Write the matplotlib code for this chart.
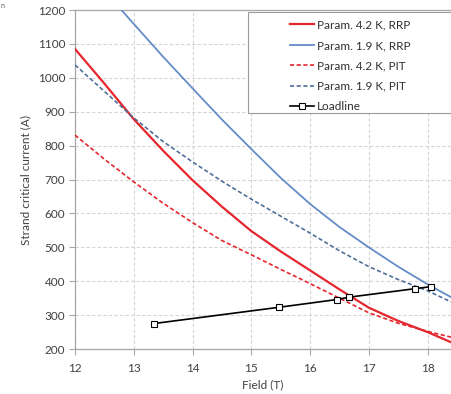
# Strand critical current vs field with magnet loadline

import matplotlib
matplotlib.use("Agg")
import matplotlib.pyplot as plt
from matplotlib.patches import Rectangle

plt.rcParams["font.family"] = ["Lato", "DejaVu Sans"]

# Param. 4.2 K, RRP
rrp_42_field = [12.0, 12.5, 13.0, 13.5, 14.0, 14.5, 15.0, 15.5, 16.0, 16.5, 17.0, 17.5, 18.0, 18.4]
rrp_42_ic = [1085, 983, 878, 785, 698, 620, 548, 488, 432, 376, 322, 283, 250, 220]

# Param. 1.9 K, RRP
rrp_19_field = [12.79, 13.0, 13.5, 14.0, 14.5, 15.0, 15.5, 16.0, 16.5, 17.0, 17.5, 18.0, 18.4]
rrp_19_ic = [1200, 1159, 1062, 969, 877, 790, 705, 628, 560, 500, 443, 391, 353]

# Param. 4.2 K, PIT
pit_42_field = [12.0, 12.5, 13.0, 13.5, 14.0, 14.5, 15.0, 15.5, 16.0, 16.5, 17.0, 17.5, 18.0, 18.4]
pit_42_ic = [831, 760, 693, 630, 573, 520, 478, 435, 393, 350, 307, 276, 252, 235]

# Param. 1.9 K, PIT
pit_19_field = [12.0, 12.5, 13.0, 13.5, 14.0, 14.5, 15.0, 15.5, 16.0, 16.5, 17.0, 17.5, 18.0, 18.4]
pit_19_ic = [1038, 960, 882, 812, 752, 695, 642, 592, 542, 490, 443, 405, 372, 339]

# Loadline
load_field = [13.34, 15.47, 16.46, 16.67, 17.79, 18.06]
load_ic = [275, 323, 346, 353, 378, 384]

x_ticks = [12, 13, 14, 15, 16, 17, 18]
y_ticks = [200, 300, 400, 500, 600, 700, 800, 900, 1000, 1100, 1200]

red = "#E5262D"
blue = "#648CC6"
blue_dash = "#4F6F98"
axis_gray = "#A6A6A6"
grid_gray = "#D4D4D4"

fig = plt.figure(figsize=(4.51, 3.94), dpi=100)
ax = fig.add_axes([75 / 451, 45 / 394, 376 / 451, 339 / 394])

ax.plot(rrp_42_field, rrp_42_ic, color=red, lw=1.6, label="Param. 4.2 K, RRP", zorder=3)
ax.plot(rrp_19_field, rrp_19_ic, color=blue, lw=1.3, label="Param. 1.9 K, RRP", zorder=3)
ax.plot(pit_42_field, pit_42_ic, color=red, lw=1.2, ls=(0, (2.5, 1.5)),
        label="Param. 4.2 K, PIT", zorder=3)
ax.plot(pit_19_field, pit_19_ic, color=blue_dash, lw=1.2, ls=(0, (2.5, 1.5)),
        label="Param. 1.9 K, PIT", zorder=3)
ax.plot(load_field, load_ic, color="black", lw=1.2, marker="s", ms=5,
        mfc="white", mec="black", mew=0.8, label="Loadline", zorder=4)

ax.set_xlim(12, 18.4)
ax.set_ylim(200, 1200)
ax.set_xticks(x_ticks)
ax.set_yticks(y_ticks)

ax.grid(True, color=grid_gray, lw=0.8, ls=(0, (3, 2)))
ax.set_axisbelow(True)

for side in ["left", "bottom", "top"]:
    ax.spines[side].set_color(axis_gray)
    ax.spines[side].set_linewidth(0.9)
ax.spines["right"].set_visible(False)

ax.tick_params(axis="both", colors=axis_gray, labelcolor="#404040",
               labelsize=8.5, length=4, width=0.8)
ax.tick_params(axis="x", pad=6)
ax.tick_params(axis="y", pad=3)

ax.set_xlabel("Field (T)", fontsize=8.5, color="#404040", labelpad=4)
ax.set_ylabel("Strand critical current (A)", fontsize=8.5, color="#404040", labelpad=5)

# Legend box runs past the right edge of the picture
box = Rectangle((0.46, 0.696), 0.6, 0.298, transform=ax.transAxes,
                facecolor="white", edgecolor="#9A9A9A", lw=0.8,
                clip_on=False, zorder=5)
ax.add_patch(box)
leg = ax.legend(loc="upper left", bbox_to_anchor=(0.572, 0.972), frameon=False,
                fontsize=8.5, handlelength=2.0, handletextpad=0.3,
                labelspacing=0.8, borderaxespad=0, borderpad=0)
leg.set_zorder(6)
for txt in leg.get_texts():
    txt.set_color("#303030")

fig.text(0.002, 0.995, "n", fontsize=5, color="#606060", va="top", ha="left")

fig.savefig("out.png", dpi=100)
